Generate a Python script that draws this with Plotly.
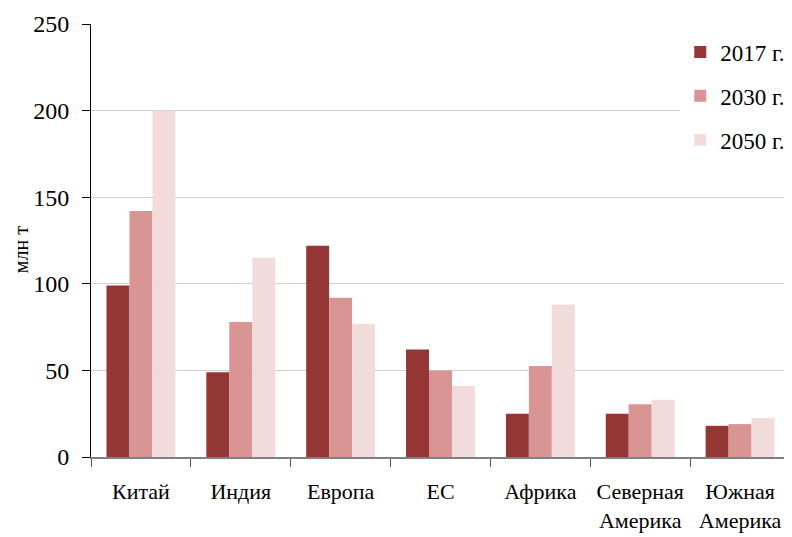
import plotly.graph_objects as go

categories = ["Китай", "Индия", "Европа", "ЕС", "Африка", "Северная<br>Америка", "Южная<br>Америка"]
series_names = ["2017 г.", "2030 г.", "2050 г."]
values_2017 = [99, 49, 122, 62, 25, 25, 18]
values_2030 = [142, 78, 92, 50, 52.5, 30.5, 19]
values_2050 = [200, 115, 77, 41, 88, 33, 22.5]
colors = ["#943634", "#D99594", "#F2DCDB"]
y_ticks = [0, 50, 100, 150, 200, 250]
y_title = "млн т"

FONT = "Liberation Serif, Times New Roman, serif"

fig = go.Figure()
for i, (name, vals, col) in enumerate(zip(series_names, [values_2017, values_2030, values_2050], colors)):
    fig.add_trace(go.Bar(x=categories, y=vals, name=name, legendgroup=f"g{i}",
                         marker=dict(color=col, line=dict(width=0))))

fig.update_layout(
    width=784, height=529,
    barmode="group", bargap=0.31, bargroupgap=0,
    paper_bgcolor="white", plot_bgcolor="white",
    margin=dict(l=83, r=2, t=16, b=80, autoexpand=False),
    font=dict(family=FONT, size=23, color="black"),
    showlegend=True,
    legend=dict(x=0.843, y=0.985, xanchor="left", yanchor="top",
                bgcolor="white", font=dict(family=FONT, size=23),
                itemwidth=30, tracegroupgap=11, traceorder="grouped"),
    xaxis=dict(showline=True, linecolor="#808080", linewidth=1.5,
               ticks="outside", tickson="boundaries", ticklen=8, tickcolor="#555555",
               showgrid=False, tickfont=dict(family=FONT, size=22), tickangle=0,
               ticklabelstandoff=14, automargin=False),
    yaxis=dict(range=[0, 250], tickvals=y_ticks, showline=True, linecolor="black", linewidth=1,
               ticks="outside", ticklen=8, tickcolor="black",
               showgrid=True, gridcolor="#CFCFCF", gridwidth=1, zeroline=False,
               tickfont=dict(family=FONT, size=24), ticklabelstandoff=8,
               automargin=False),
    annotations=[dict(text=y_title, xref="paper", yref="paper", x=-0.1, y=0.478,
                      textangle=-90, showarrow=False, font=dict(family=FONT, size=20),
                      xanchor="center", yanchor="middle")],
)
fig.write_html("out.html")
